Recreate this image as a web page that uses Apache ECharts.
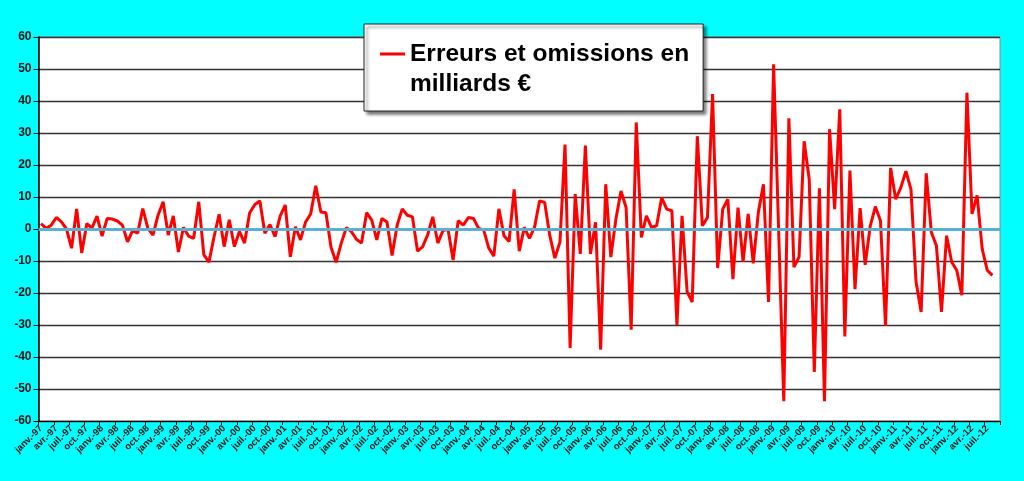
<!DOCTYPE html>
<html>
<head>
<meta charset="utf-8">
<script src="https://cdn.jsdelivr.net/npm/echarts@6/dist/echarts.min.js"></script>
<style>
html,body{margin:0;padding:0;background:#00FFFF;}
#c{width:1024px;height:481px;}
</style>
</head>
<body>
<div id="c"></div>
<script>
// Month abbreviations and years used to build the monthly category labels (janv.-97 ... sept.-12)
const monthNames = ['janv.','févr.','mars','avr.','mai','juin','juil.','août','sept.','oct.','nov.','déc.'];
const years = ['97','98','99','00','01','02','03','04','05','06','07','08','09','10','11','12'];
const lastMonthIndex = 8; // sept.-12 is the last category

// Erreurs et omissions, milliards €, monthly from janv.-97 to août-12
const erreursOmissions = [
  1.7, 0.2, 1.2, 3.6, 2.2, 0, -6, 6.3, -7.5, 1.7, 0.3, 4,
  -2.2, 3.3, 3.1, 2.5, 1.2, -4, -0.5, -1.3, 6.4, 0.2, -1.9, 4.3,
  8.5, -1.9, 4.1, -7.2, 0.5, -2.2, -2.9, 8.5, -8, -10.4, -2.5, 4.6,
  -5.5, 2.9, -5.5, -0.7, -4.4, 5, 7.6, 8.8, -1.3, 1.4, -2.4, 4,
  7.5, -8.7, 0.7, -3.4, 2.2, 4.7, 13.5, 5.3, 5.1, -5.7, -10.4, -4.5,
  0.4, -0.8, -3.2, -4.4, 5.1, 2.8, -3.4, 3.3, 2.2, -8.3, 1.2, 6.3,
  4.3, 3.8, -6.9, -5.6, -1.8, 3.8, -4.4, -0.5, -0.1, -9.7, 2.6, 1.2,
  3.6, 3.3, 0.2, -0.3, -5.9, -8.5, 6.3, -2.1, -3.9, 12.4, -6.9, 0.5,
  -2.9, 0.5, 8.8, 8.3, -2, -9.1, -4.1, 26.4, -37.2, 10.9, -7.8, 26.1,
  -7.8, 2.1, -37.7, 14, -8.8, 3.1, 11.9, 6.7, -31.5, 33.3, -2.6, 4.1,
  0.5, 1, 9.8, 6.2, 5.7, -30, 4.1, -19.6, -22.8, 29, 1, 3.6,
  42.2, -12.2, 6.2, 9.3, -15.7, 6.7, -10.3, 4.7, -10.7, 5.2, 14, -22.8,
  51.5, -1, -53.8, 34.6, -11.9, -8.8, 27.4, 15.5, -44.7, 12.7, -53.8, 31.2,
  6.2, 37.4, -33.6, 18.3, -18.8, 6.5, -11.2, 1, 7, 2.6, -30.3, 19.1,
  9.3, 12.9, 18.1, 12.4, -16.5, -25.9, 17.4, -1, -5.2, -25.9, -2.1, -10.3,
  -12.9, -20.7, 42.6, 4.7, 10.5, -6.2, -12.9, -14.5
];

const yMin = -60, yMax = 60, yStep = 10;

const categories = [];
years.forEach((y, yi) => {
  monthNames.forEach((m, mi) => {
    if (yi === years.length - 1 && mi > lastMonthIndex) return;
    categories.push(m + '-' + y);
  });
});

const chart = echarts.init(document.getElementById('c'), null, {renderer: 'canvas'});
chart.setOption({
  backgroundColor: '#00FFFF',
  animation: false,
  grid: {
    left: 38.5, right: 24, top: 37, bottom: 60,
    show: true, backgroundColor: '#FFFFFF', borderColor: '#8a8a8a', borderWidth: 1,
    containLabel: false
  },
  legend: {
    left: 364, top: 24,
    orient: 'vertical',
    padding: [15, 14, 12, 16],
    backgroundColor: '#FFFFFF',
    borderColor: '#222',
    borderWidth: 1,
    shadowColor: 'rgba(0,0,0,0.55)',
    shadowBlur: 3,
    shadowOffsetX: 3,
    shadowOffsetY: 3,
    itemWidth: 25,
    itemHeight: 60,
    icon: 'path://M0,0 L0.05,0 L0.05,0.05 Z M0,13.5 L25,13.5 L25,16.5 L0,16.5 Z M0,60 L0.05,60 L0.05,59.95 Z',
    formatter: () => 'Erreurs et omissions en\nmilliards €',
    textStyle: {
      fontFamily: 'Liberation Sans, Arial, sans-serif',
      fontWeight: 'bold', fontSize: 24.5, lineHeight: 30, color: '#000'
    },
    data: ['Erreurs et omissions en milliards €']
  },
  xAxis: {
    type: 'category',
    data: categories,
    boundaryGap: true,
    axisLine: {onZero: false, lineStyle: {color: '#000', width: 1}},
    axisTick: {show: true, interval: 2, length: 4, alignWithLabel: false, lineStyle: {color: '#000'}},
    axisLabel: {
      interval: 2, rotate: 45, margin: 6,
      fontFamily: 'Liberation Sans, Arial, sans-serif',
      fontWeight: 'bold', fontSize: 9.5, color: '#111'
    },
    splitLine: {show: false}
  },
  yAxis: {
    type: 'value',
    min: yMin, max: yMax, interval: yStep,
    axisLine: {show: true, lineStyle: {color: '#000', width: 1.5}},
    axisTick: {show: true, length: 5, lineStyle: {color: '#000'}},
    axisLabel: {
      margin: 7,
      fontFamily: 'Liberation Sans, Arial, sans-serif',
      fontWeight: 'bold', fontSize: 12, color: '#111'
    },
    splitLine: {show: true, lineStyle: {color: '#333', width: 1.3}}
  },
  series: [{
    name: 'Erreurs et omissions en milliards €',
    type: 'line',
    data: erreursOmissions,
    showSymbol: false,
    symbol: 'none',
    color: '#FF0000',
    lineStyle: {color: '#FF0000', width: 3},
    markLine: {
      silent: true,
      symbol: 'none',
      label: {show: false},
      lineStyle: {color: '#5AB0D2', width: 3, type: 'solid'},
      data: [{yAxis: 0}]
    },
    z: 3
  }]
});
</script>
</body>
</html>
